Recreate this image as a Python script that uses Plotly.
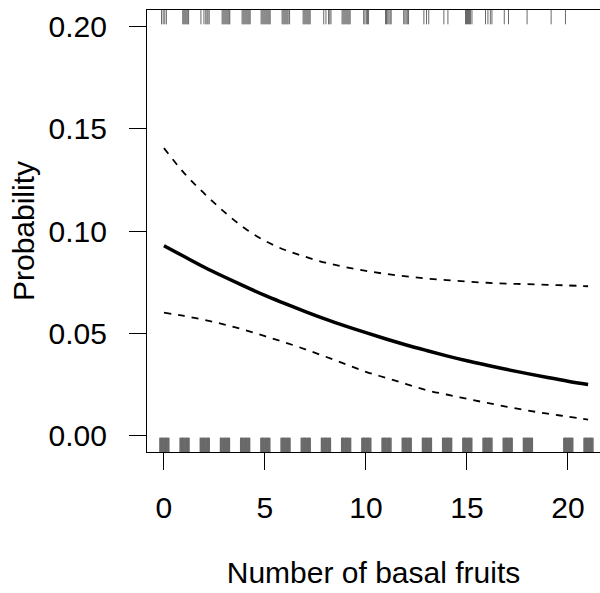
import plotly.graph_objects as go

# Fitted probability and its confidence band against the number of basal fruits
fruits = list(range(0, 22))
prob_fit = [0.0928, 0.0875, 0.0823, 0.0775, 0.0729, 0.0685, 0.0645, 0.0606,
            0.0569, 0.0535, 0.0503, 0.0472, 0.0443, 0.0416, 0.0390, 0.0366,
            0.0344, 0.0323, 0.0303, 0.0284, 0.0266, 0.0250]
prob_upper = [0.1405, 0.1283, 0.1183, 0.1092, 0.1013, 0.0952, 0.0907, 0.0874,
              0.0845, 0.0823, 0.0805, 0.0790, 0.0778, 0.0768, 0.0760, 0.0753,
              0.0747, 0.0743, 0.0740, 0.0737, 0.0734, 0.0730]
prob_lower = [0.0601, 0.0585, 0.0566, 0.0543, 0.0516, 0.0486, 0.0455, 0.0422,
              0.0386, 0.0349, 0.0312, 0.0282, 0.0252, 0.0222, 0.0201, 0.0180,
              0.0160, 0.0141, 0.0123, 0.0107, 0.0093, 0.0078]

# Jittered observations with outcome 1 (top rug)
rug_success = [-0.12, -0.04, 0.04, 0.12,
               0.93, 0.98, 1.03, 1.08, 1.13, 1.18, 1.22,
               1.83, 1.98, 2.07, 2.13, 2.18, 2.24,
               2.88, 2.93, 2.98, 3.03, 3.08, 3.13, 3.18, 3.23, 3.26,
               3.87, 3.92, 3.97, 4.02, 4.07, 4.12, 4.17, 4.22, 4.27,
               4.81, 4.86, 4.91, 4.96, 5.01, 5.06, 5.11, 5.16, 5.21, 5.26,
               5.85, 5.90, 5.95, 6.00, 6.05, 6.10, 6.15, 6.22,
               6.89, 6.94, 6.99, 7.04, 7.09, 7.14, 7.19, 7.24,
               7.91, 8.02, 8.15, 8.21, 8.27,
               8.82, 8.87, 8.92, 8.97, 9.02, 9.07, 9.12, 9.17, 9.22,
               9.89, 9.95, 10.02, 10.08, 10.13,
               10.97, 11.02, 11.08, 11.14, 11.20, 11.25,
               11.87, 11.93, 11.99, 12.05, 12.11,
               12.87, 13.00, 13.11,
               13.86, 14.06,
               14.93, 14.98, 15.03, 15.08, 15.13, 15.18, 15.25,
               15.92, 16.04, 16.16, 16.24,
               16.85, 17.06,
               17.98, 19.17, 19.88]

# Observations with outcome 0 (bottom rug): fruit counts and the jitter spread
failure_counts = [0, 1, 2, 3, 4, 5, 6, 7, 8, 9, 10, 11, 12, 13, 14, 15, 16,
                  17, 18, 20, 21]
jitter = [-0.20, -0.16, -0.12, -0.08, -0.04, 0.00, 0.04, 0.08, 0.12, 0.16,
          0.20, 0.24]

x_ticks = [0, 5, 10, 15, 20]
y_ticks = [0.00, 0.05, 0.10, 0.15, 0.20]

Y_MIN, Y_MAX = -0.008, 0.208
RUG_LEN = 0.0070
RUG_COLOR = "#696969"
FONT = "Liberation Sans, Arial, sans-serif"


def rug_segments(values, y0, y1):
    xs, ys = [], []
    for v in values:
        xs += [v, v, None]
        ys += [y0, y1, None]
    return xs, ys


fig = go.Figure()

tx, ty = rug_segments(rug_success, Y_MAX, Y_MAX - RUG_LEN)
fig.add_trace(go.Scatter(x=tx, y=ty, mode="lines",
                         line=dict(color=RUG_COLOR, width=1),
                         hoverinfo="skip", showlegend=False))

rug_failure = [c + j for c in failure_counts for j in jitter]
bx, by = rug_segments(rug_failure, Y_MIN, Y_MIN + RUG_LEN)
fig.add_trace(go.Scatter(x=bx, y=by, mode="lines",
                         line=dict(color=RUG_COLOR, width=1.5),
                         hoverinfo="skip", showlegend=False))

for band in (prob_upper, prob_lower):
    fig.add_trace(go.Scatter(x=fruits, y=band, mode="lines",
                             line=dict(color="black", width=1.8,
                                       dash="7px,7px", shape="spline"),
                             showlegend=False))

fig.add_trace(go.Scatter(x=fruits, y=prob_fit, mode="lines",
                         line=dict(color="black", width=3.5, shape="spline"),
                         showlegend=False))

axis_common = dict(
    showgrid=False, zeroline=False, showline=True, linecolor="black",
    linewidth=1.3, ticks="outside", ticklen=17, tickwidth=1.3,
    tickcolor="black", tickfont=dict(family=FONT, size=30, color="black"),
)

fig.update_xaxes(
    range=[-0.84, 21.59], tickvals=x_ticks, mirror=True,
    ticklabelstandoff=12,
    title=dict(text="Number of basal fruits", standoff=38,
               font=dict(family=FONT, size=30, color="black")),
    **axis_common,
)
fig.update_yaxes(
    range=[Y_MIN, Y_MAX], tickvals=y_ticks, tickformat=".2f",
    ticklabelstandoff=16,
    title=dict(text="Probability", standoff=4,
               font=dict(family=FONT, size=30, color="black")),
    **axis_common,
)

fig.update_layout(
    width=600, height=593,
    margin=dict(l=147, r=0, t=10, b=141),
    plot_bgcolor="white", paper_bgcolor="white",
    font=dict(family=FONT, color="black"),
)

fig.write_html("out.html")
